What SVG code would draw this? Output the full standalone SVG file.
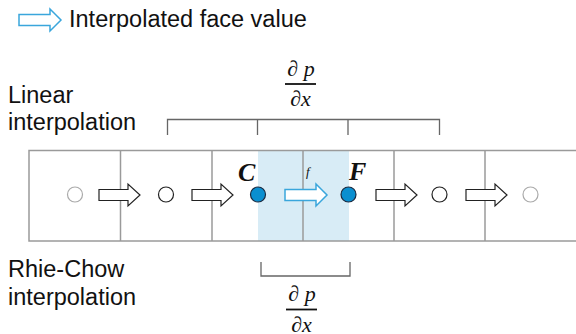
<svg xmlns="http://www.w3.org/2000/svg" width="576" height="334" viewBox="0 0 576 334">
<style>
.lbl{font-family:"Liberation Sans",Arial,sans-serif;font-size:23.5px;fill:#111}
.math{font-family:"Liberation Serif","Times New Roman",serif;font-size:22px;font-style:italic;fill:#111}
.big{font-size:26px;font-weight:bold}
.grid{stroke:#9a9a9a;stroke-width:1.5;fill:none}
.brk{stroke:#666;stroke-width:1.3;fill:none}
.arr{fill:#fff;stroke:#222;stroke-width:1.2}
.barr{fill:#fff;stroke:#3aa6dc;stroke-width:1.5}
.cell{fill:#fff;stroke:#222;stroke-width:1.2}
.cellg{fill:#fff;stroke:#aaa;stroke-width:1.2}
.node{fill:#0a8fd0;stroke:#1a2a40;stroke-width:1.2}
.bar{stroke:#111;stroke-width:1.8}
</style>
<defs>
<path id="ar" d="M0,-5.5 H29 V-11 L41,0 L29,11 V5.5 H0 Z"/>
<path id="bar" d="M0,-5.5 H31 V-11 L42,0 L31,11 V5.5 H0 Z"/>
</defs>
<g id="legend">
<use href="#bar" class="barr" x="19" y="20"/>
<text class="lbl" x="69" y="27">Interpolated face value</text>
</g>
<g id="labels">
<text class="lbl" x="8" y="103">Linear</text>
<text class="lbl" x="8" y="130">interpolation</text>
<text class="lbl" x="8" y="277">Rhie-Chow</text>
<text class="lbl" x="8" y="305">interpolation</text>
</g>
<g id="strip">
<rect x="258" y="151" width="91" height="90" fill="#d8ecf6"/>
<path class="grid" d="M576,150.5 H29 V241 H576 M120.5,150.5 V241 M212,150.5 V241 M303,150.5 V241 M394,150.5 V241 M485,150.5 V241"/>
</g>
<g id="connectors">
<use href="#ar" class="arr" x="99" y="195"/>
<use href="#ar" class="arr" x="192" y="195"/>
<use href="#bar" class="barr" x="285" y="195"/>
<use href="#ar" class="arr" x="376" y="195"/>
<use href="#ar" class="arr" x="466" y="195"/>
</g>
<g id="n1"><circle class="cellg" cx="75" cy="194.5" r="7.5"/></g>
<g id="n2"><circle class="cell" cx="166" cy="194.5" r="7.5"/></g>
<g id="nC"><circle class="node" cx="258" cy="194.5" r="7.5"/>
<text class="math big" x="238" y="180.5">C</text></g>
<g id="nF"><circle class="node" cx="348.5" cy="194.5" r="7.5"/>
<text class="math big" x="349" y="180">F</text></g>
<g id="n5"><circle class="cell" cx="439.5" cy="194.5" r="7.5"/></g>
<g id="n6"><circle class="cellg" cx="530.5" cy="194.5" r="7.5"/></g>
<text class="math" style="font-size:13px" x="306" y="176">f</text>
<g id="top-bracket">
<path class="brk" d="M167.5,135 V119.5 H439.5 V135 M257.5,119.5 V135 M348,119.5 V135"/>
<text class="math" x="301" y="76" text-anchor="middle">∂ p</text>
<line class="bar" x1="285" y1="84" x2="316" y2="84"/>
<text class="math" x="300.5" y="105.5" text-anchor="middle">∂x</text>
</g>
<g id="bottom-bracket">
<path class="brk" d="M261,262 V276 H350 V262"/>
<text class="math" x="302" y="301" text-anchor="middle">∂ p</text>
<line class="bar" x1="286" y1="309.5" x2="317" y2="309.5"/>
<text class="math" x="301.5" y="331.5" text-anchor="middle">∂x</text>
</g>
</svg>
